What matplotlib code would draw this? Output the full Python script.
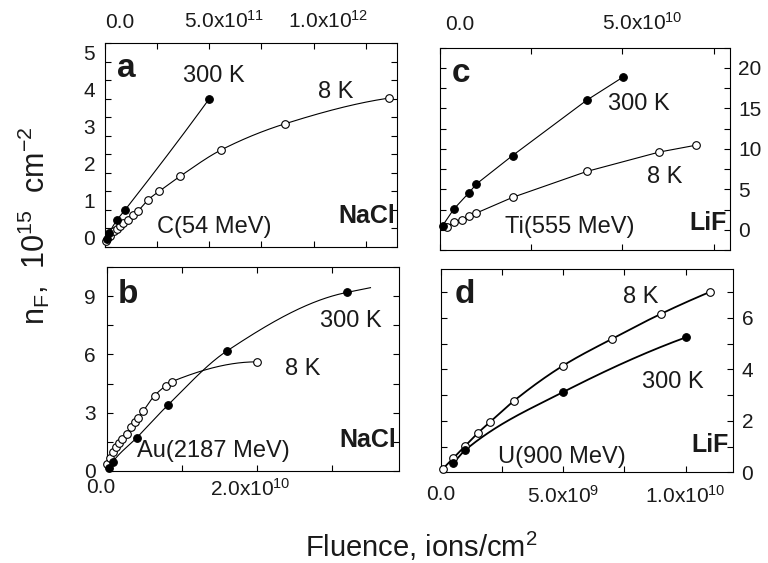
import numpy as np
import matplotlib
matplotlib.use('Agg')
import matplotlib.pyplot as plt
from matplotlib.ticker import MultipleLocator, FuncFormatter
from matplotlib.transforms import ScaledTranslation

plt.rcParams['font.family'] = ['Liberation Sans', 'DejaVu Sans']
plt.rcParams['mathtext.fontset'] = 'custom'
plt.rcParams['mathtext.rm'] = 'Liberation Sans'
plt.rcParams['mathtext.it'] = 'Liberation Sans:italic'
plt.rcParams['mathtext.default'] = 'regular'

# panel a: C (54 MeV) -> NaCl
a_x_300 = [0.08e11, 0.21e11, 0.56e11, 0.97e11, 5.0e11]
a_y_300 = [0.22, 0.38, 0.71, 1.0, 4.0]
a_x_8 = [0.05e11, 0.24e11, 0.43e11, 0.56e11, 0.72e11, 0.88e11, 1.12e11, 1.35e11,
         1.59e11, 2.07e11, 2.6e11, 3.59e11, 5.58e11, 8.61e11, 13.64e11]
a_y_8 = [0.15, 0.30, 0.42, 0.48, 0.56, 0.63, 0.73, 0.85, 0.97, 1.27, 1.5, 1.9,
         2.62, 3.32, 4.02]

# panel b: Au (2187 MeV) -> NaCl
b_x_300 = [0.035e10, 0.08e10, 0.4e10, 0.82e10, 1.6e10, 3.2e10]
b_y_300 = [0.16, 0.45, 1.7, 3.4, 6.17, 9.2]
b_x_8 = [0.01e10, 0.04e10, 0.08e10, 0.12e10, 0.17e10, 0.21e10, 0.27e10, 0.33e10,
         0.38e10, 0.42e10, 0.49e10, 0.64e10, 0.79e10, 0.87e10, 2.0e10]
b_y_8 = [0.35, 0.65, 0.95, 1.2, 1.45, 1.65, 1.9, 2.25, 2.5, 2.7, 3.1, 3.88,
         4.39, 4.6, 5.62]

# panel c: Ti (555 MeV) -> LiF
c_x_300 = [0.07e10, 0.38e10, 0.8e10, 1.0e10, 1.99e10, 4.02e10, 5.03e10]
c_y_300 = [0.5, 2.56, 4.6, 5.66, 9.17, 16.0, 18.9]
c_x_8 = [0.18e10, 0.38e10, 0.6e10, 0.8e10, 1.0e10, 1.99e10, 4.02e10, 6.01e10, 7.02e10]
c_y_8 = [0.4, 0.9, 1.24, 1.65, 2.07, 4.0, 7.2, 9.6, 10.45]

# panel d: U (900 MeV) -> LiF
d_x_8 = [0.07e9, 0.5e9, 1.0e9, 1.5e9, 2.0e9, 3.0e9, 5.0e9, 7.0e9, 9.0e9, 11.0e9]
d_y_8 = [0.13, 0.55, 1.04, 1.52, 1.95, 2.79, 4.15, 5.19, 6.16, 7.01]
d_x_300 = [0.5e9, 1.0e9, 5.0e9, 10.0e9]
d_y_300 = [0.35, 0.87, 3.12, 5.24]


def pchip(x, y, xs):
    # monotone cubic through the points, linear beyond the last one
    x = np.asarray(x, float)
    y = np.asarray(y, float)
    xs = np.asarray(xs, float)
    h = np.diff(x)
    d = np.diff(y) / h
    n = len(x)
    m = np.zeros(n)
    for k in range(1, n - 1):
        if d[k - 1] * d[k] > 0:
            w1 = 2 * h[k] + h[k - 1]
            w2 = h[k] + 2 * h[k - 1]
            m[k] = (w1 + w2) / (w1 / d[k - 1] + w2 / d[k])

    def end(h0, h1, d0, d1):
        s = ((2 * h0 + h1) * d0 - h0 * d1) / (h0 + h1)
        if np.sign(s) != np.sign(d0):
            s = 0.0
        elif np.sign(d0) != np.sign(d1) and abs(s) > abs(3 * d0):
            s = 3 * d0
        return s

    if n > 2:
        m[0] = end(h[0], h[1], d[0], d[1])
        m[-1] = end(h[-1], h[-2], d[-1], d[-2])
    else:
        m[:] = d[0]
    idx = np.clip(np.searchsorted(x, xs) - 1, 0, n - 2)
    t = (xs - x[idx]) / h[idx]
    ys = ((2 * t**3 - 3 * t**2 + 1) * y[idx] + (t**3 - 2 * t**2 + t) * h[idx] * m[idx]
          + (-2 * t**3 + 3 * t**2) * y[idx + 1] + (t**3 - t**2) * h[idx] * m[idx + 1])
    out = xs > x[-1]
    ys[out] = y[-1] + m[-1] * (xs[out] - x[-1])
    return ys


def sci(v, pos):
    if v == 0:
        return '0.0'
    e = int(np.floor(np.log10(abs(v)) + 1e-9))
    return r'%.1fx10$^{%d}$' % (v / 10**e, e)


TXT = '#1a1a1a'
fig = plt.figure(figsize=(7.68, 5.63), dpi=100)

ax_a = fig.add_axes([0.1367, 0.5618, 0.3802, 0.3613])
ax_b = fig.add_axes([0.1389, 0.1639, 0.3806, 0.3613])
ax_c = fig.add_axes([0.5729, 0.5560, 0.3776, 0.3593])
ax_d = fig.add_axes([0.5742, 0.1611, 0.3806, 0.3611])


def curve(ax, x, y, filled, lw=0.8, smooth=True, x_end=None):
    if smooth:
        xe = x[-1] if x_end is None else x_end
        xs = np.linspace(x[0], xe, 300)
        ax.plot(xs, pchip(x, y, xs), color='black', lw=lw, zorder=2)
    else:
        ax.plot(x, y, color='black', lw=lw, zorder=2)
    ax.plot(x, y, 'o', ms=5.5, mec='black', mew=0.8,
            mfc='black' if filled else 'white', zorder=3, clip_on=False)


curve(ax_a, a_x_8, a_y_8, False)
curve(ax_a, a_x_300, a_y_300, True)
curve(ax_b, b_x_8, b_y_8, False)
curve(ax_b, b_x_300, b_y_300, True, x_end=3.52e10)
curve(ax_c, c_x_8, c_y_8, False, smooth=False)
curve(ax_c, c_x_300, c_y_300, True, smooth=False)
curve(ax_d, d_x_8, d_y_8, False, lw=1.3)
curve(ax_d, d_x_300, d_y_300, True, lw=1.3)

ax_a.set_xlim(0, 1.4e12)
ax_a.set_ylim(0, 5.5)
ax_b.set_xlim(0, 3.9e10)
ax_b.set_ylim(0, 10.5)
ax_c.set_xlim(0, 7.95e10)
ax_c.set_ylim(-2.5, 22.5)
ax_d.set_xlim(0, 1.195e10)
ax_d.set_ylim(0, 7.9)

ax_a.xaxis.set_major_locator(MultipleLocator(5e11))
ax_a.xaxis.set_minor_locator(MultipleLocator(2.5e11))
ax_a.yaxis.set_major_locator(MultipleLocator(1))
ax_a.yaxis.set_minor_locator(MultipleLocator(0.5))
ax_b.xaxis.set_major_locator(MultipleLocator(2e10))
ax_b.xaxis.set_minor_locator(MultipleLocator(1e10))
ax_b.yaxis.set_major_locator(MultipleLocator(3))
ax_b.yaxis.set_minor_locator(MultipleLocator(1.5))
ax_c.xaxis.set_major_locator(MultipleLocator(5e10))
ax_c.xaxis.set_minor_locator(MultipleLocator(2.5e10))
ax_c.yaxis.set_major_locator(MultipleLocator(5))
ax_c.yaxis.set_minor_locator(MultipleLocator(2.5))
ax_d.xaxis.set_major_locator(MultipleLocator(5e9))
ax_d.xaxis.set_minor_locator(MultipleLocator(2.5e9))
ax_d.yaxis.set_major_locator(MultipleLocator(2))
ax_d.yaxis.set_minor_locator(MultipleLocator(1))

for ax in (ax_a, ax_b, ax_c, ax_d):
    ax.xaxis.set_major_formatter(FuncFormatter(sci))
    ax.tick_params(which='both', direction='in', top=True, bottom=True,
                   left=True, right=True, length=4, width=0.8,
                   labelsize=15, labelcolor=TXT)
    for s in ax.spines.values():
        s.set_linewidth(0.8)

ax_a.tick_params(axis='x', labeltop=True, labelbottom=False, pad=8)
ax_c.tick_params(axis='x', labeltop=True, labelbottom=False, pad=10)
ax_b.tick_params(axis='x', pad=5)
ax_d.tick_params(axis='x', pad=9)
ax_a.tick_params(axis='y', pad=7)
ax_b.tick_params(axis='y', pad=8)
ax_c.tick_params(axis='y', labelleft=False, labelright=True, pad=6)
ax_d.tick_params(axis='y', labelleft=False, labelright=True, pad=6)

# panel letters, temperatures, ions and crystals
ax_a.text(0.041, 0.834, 'a', transform=ax_a.transAxes, fontsize=24, fontweight='bold', color=TXT)
ax_a.text(0.267, 0.81, '300 K', transform=ax_a.transAxes, fontsize=17, color=TXT)
ax_a.text(0.729, 0.731, '8 K', transform=ax_a.transAxes, fontsize=17, color=TXT)
ax_a.text(0.178, 0.067, 'C(54 MeV)', transform=ax_a.transAxes, fontsize=17, color=TXT)
ax_a.text(0.995, 0.115, 'NaCl', transform=ax_a.transAxes, ha='right', fontsize=18, fontweight='bold', color=TXT)

ax_b.text(0.039, 0.824, 'b', transform=ax_b.transAxes, fontsize=24, fontweight='bold', color=TXT)
ax_b.text(0.73, 0.705, '300 K', transform=ax_b.transAxes, fontsize=17, color=TXT)
ax_b.text(0.61, 0.47, '8 K', transform=ax_b.transAxes, fontsize=17, color=TXT)
ax_b.text(0.104, 0.069, 'Au(2187 MeV)', transform=ax_b.transAxes, fontsize=17, color=TXT)
ax_b.text(0.99, 0.118, 'NaCl', transform=ax_b.transAxes, ha='right', fontsize=18, fontweight='bold', color=TXT)

ax_c.text(0.041, 0.83, 'c', transform=ax_c.transAxes, fontsize=24, fontweight='bold', color=TXT)
ax_c.text(0.579, 0.692, '300 K', transform=ax_c.transAxes, fontsize=17, color=TXT)
ax_c.text(0.714, 0.331, '8 K', transform=ax_c.transAxes, fontsize=17, color=TXT)
ax_c.text(0.224, 0.084, 'Ti(555 MeV)', transform=ax_c.transAxes, fontsize=17, color=TXT)
ax_c.text(0.99, 0.099, 'LiF', transform=ax_c.transAxes, ha='right', fontsize=18, fontweight='bold', color=TXT)

ax_d.text(0.048, 0.833, 'd', transform=ax_d.transAxes, fontsize=24, fontweight='bold', color=TXT)
ax_d.text(0.623, 0.833, '8 K', transform=ax_d.transAxes, fontsize=17, color=TXT)
ax_d.text(0.688, 0.415, '300 K', transform=ax_d.transAxes, fontsize=17, color=TXT)
ax_d.text(0.195, 0.046, 'U(900 MeV)', transform=ax_d.transAxes, fontsize=17, color=TXT)
ax_d.text(0.984, 0.10, 'LiF', transform=ax_d.transAxes, ha='right', fontsize=18, fontweight='bold', color=TXT)

fig.text(0.548, 0.0107, 'Fluence, ions/cm$^2$', ha='center', va='baseline', fontsize=21, color=TXT)
fig.text(0.044, 0.599, 'n$_F$,  10$^{15}$  cm$^{-2}$', rotation=90, ha='center', va='center',
         fontsize=22, color=TXT)

# the original figure has its tick labels nudged a little off the ticks
fig.canvas.draw()


def nudge(labels, dx, dy):
    off = ScaledTranslation(dx / 100.0, dy / 100.0, fig.dpi_scale_trans)
    for lab in labels:
        lab.set_transform(lab.get_transform() + off)


nudge(ax_a.get_xticklabels(), 15, 0)
nudge(ax_c.get_xticklabels(), 20, 0)
nudge(ax_b.get_xticklabels(), -6, 0)
nudge(ax_a.get_yticklabels(), 0, 9)

fig.savefig('out.png', dpi=100)
